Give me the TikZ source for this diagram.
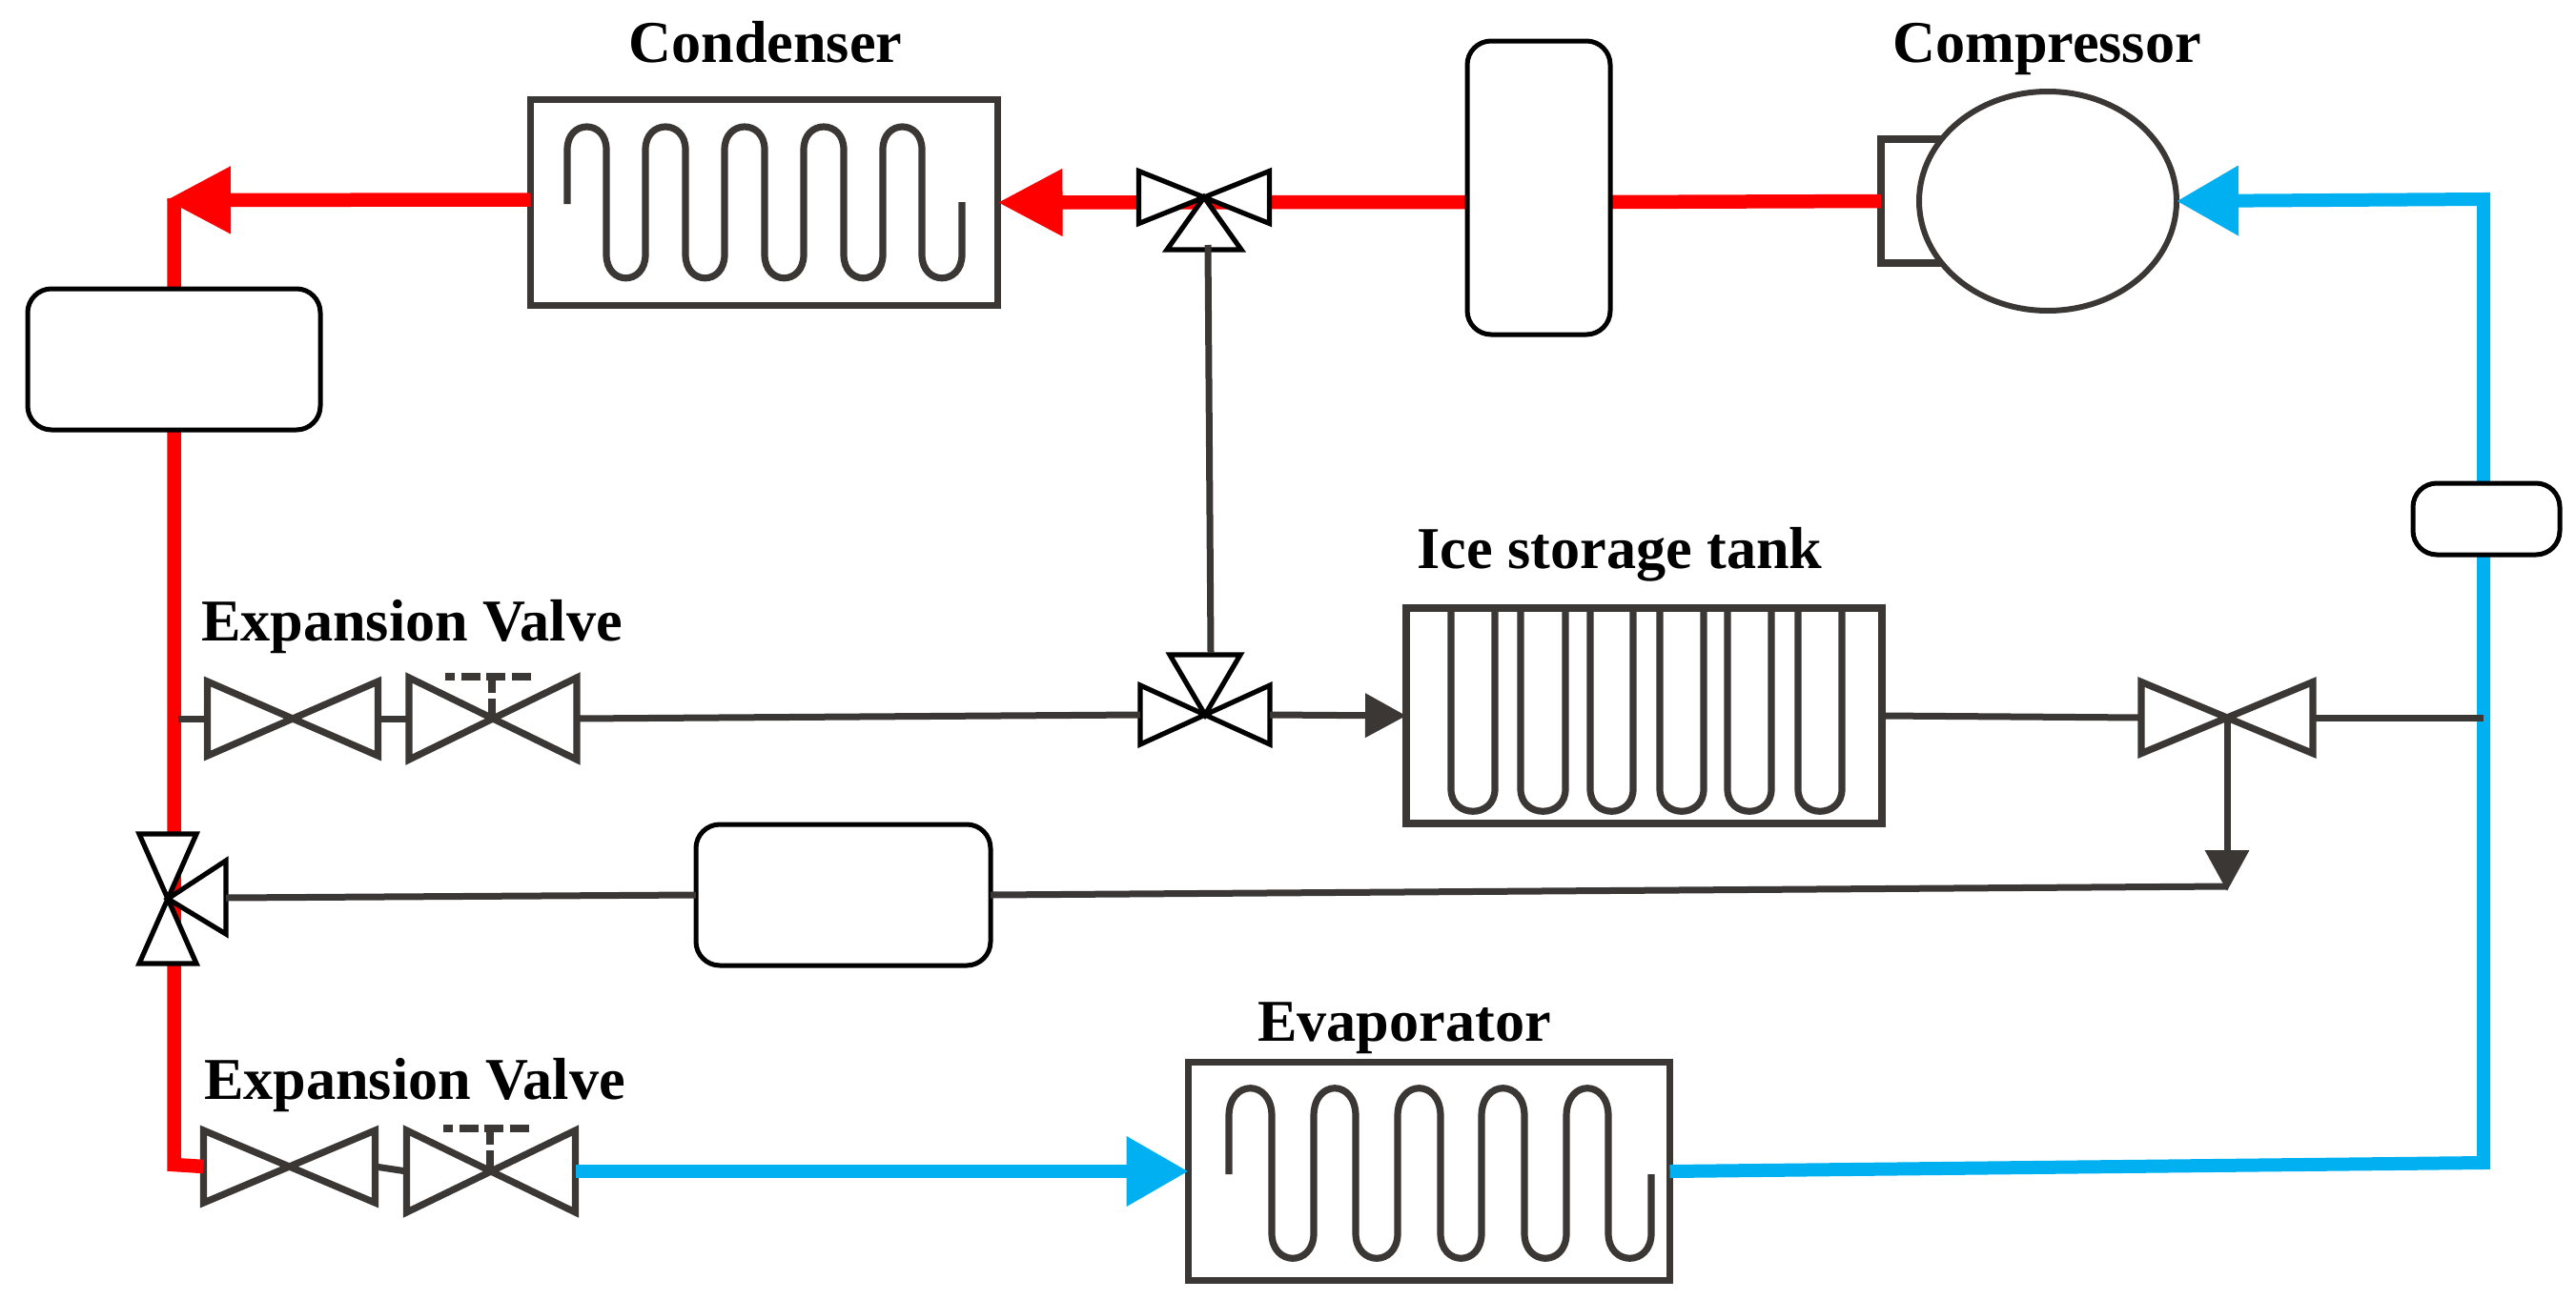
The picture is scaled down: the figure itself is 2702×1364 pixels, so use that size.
\documentclass[tikz,border=0pt]{standalone}
\usepackage{fontspec}
\setmainfont{Liberation Serif}
\usepackage{tikz}
\usetikzlibrary{arrows.meta,shapes.geometric}

\definecolor{darkline}{HTML}{3B3735}
\definecolor{pipered}{HTML}{FF0000}
\definecolor{pipeblue}{HTML}{00B0F0}

\tikzset{
  title/.style={anchor=base, inner sep=0pt, font=\bfseries\fontsize{17.7}{20}\selectfont},
  box/.style 2 args={shape=rectangle, draw=darkline, fill=white, line width=.75mm, inner sep=0pt, outer sep=0pt, minimum width=#1*0.1mm, minimum height=#2*0.1mm},
  tank/.style 2 args={shape=rectangle, draw=black, fill=white, line width=.5mm, rounded corners=2.5mm, inner sep=0pt, outer sep=0pt, minimum width=#1*0.1mm, minimum height=#2*0.1mm},
  valve/.style n args={3}{shape=rectangle, inner sep=0pt, outer sep=0pt, minimum width=#1*0.1mm, minimum height=#2*0.1mm,
    append after command={\pgfextra{\draw[#3] (\tikzlastnode.south west) -- (\tikzlastnode.north east) -- (\tikzlastnode.south east) -- (\tikzlastnode.north west) -- cycle;}}},
  greyvalve/.style={draw=darkline, fill=white, line width=.72mm},
  blackvalve/.style={draw=black, fill=white, line width=.52mm},
  wire/.style={draw=darkline, line width=.7mm},
  coil/.style={draw=darkline, line width=.72mm},
  redpipe/.style={draw=pipered, line width=1.45mm},
  bluepipe/.style={draw=pipeblue, line width=1.4mm},
  redtip/.style={-{Triangle[length=6.8mm,width=6.7mm]}},
  bluetip/.style={-{Triangle[length=6.5mm,width=7mm]}},
  wiretip/.style={-{Triangle[length=4.3mm,width=4.5mm]}},
  actuator/.style={draw=darkline, line width=.75mm}
}

\begin{document}
\begin{tikzpicture}[x=0.1mm,y=-0.1mm]
\useasboundingbox (0,0) rectangle (2702,1364);

\coordinate (tap) at (187,754);
\coordinate (arrowleft) at (174,210);
\coordinate (topleft) at (182.5,208);
\coordinate (botleft) at (182.5,1222);
\coordinate (topright) at (2605,209);
\coordinate (botright) at (2605,1220);
\coordinate (rightend) at (2605,753);
\coordinate (drop) at (2336,935);
\coordinate (dropleft) at (2336,930);
\coordinate (topport) at (1267,257);
\coordinate (midport) at (1270,685);
\coordinate (leftport) at (237,942);
\coordinate (drumtopwest) at (1539,212);
\coordinate (drumtopeast) at (1689,212);

\node[box={64}{130}] (compbox) at (2005,211) {};
\node[shape=ellipse, draw=darkline, fill=white, line width=.6mm, inner sep=0pt, outer sep=0pt, minimum width=27mm, minimum height=23mm] (compressor) at (2148,211) {};
\node[box={490}{216}] (condenser) at (801.5,212.5) {};
\node[box={499}{226}] (ice) at (1724.5,751) {};
\node[box={505}{229}] (evaporator) at (1499,1229) {};

\node[valve={179}{78}{greyvalve}] (valveA) at (307,754) {};
\node[valve={176}{86}{greyvalve}] (valveB) at (517,754) {};
\node[valve={180}{76}{greyvalve}] (valveC) at (303.5,1224) {};
\node[valve={177}{86}{greyvalve}] (valveD) at (515,1229) {};

\draw[redpipe] (compbox.west) -- (drumtopeast);
\draw[redpipe,redtip] (drumtopwest) -- (condenser.east);
\draw[redpipe,redtip] ([yshift=.3mm]condenser.west) -- (arrowleft);
\draw[redpipe] (topleft) -- (botleft) -- (valveC.west);

\draw[bluepipe,bluetip] (valveD.east) -- (evaporator.west);
\draw[bluepipe,bluetip] (evaporator.east) -- (botright) -- (topright) -- (compressor.east);

\node[tank={307}{148}] (drumleft) at (182.5,377) {};
\node[tank={150}{308}] (drumtop) at (1614,197) {};
\node[tank={154}{75}] (drumright) at (2608,544.5) {};
\node[tank={309}{148}] (drummid) at (884.5,939) {};

\node[valve={137}{55}{blackvalve}] (valvetop) at (1263,207) {};
\draw[blackvalve] (valvetop.center) -- (1224,262) -- (1302,262) -- cycle;
\node[valve={136}{62}{blackvalve}] (valvemid) at (1264,750) {};
\draw[blackvalve] (valvemid.center) -- (1227,687) -- (1301,687) -- cycle;
\node[valve={136}{60}{blackvalve},rotate=90] (valveleft) at (176,943) {};
\draw[blackvalve] (valveleft.center) -- (237,903) -- (237,980) -- cycle;
\node[valve={180}{75}{greyvalve}] (valveright) at (2336,753) {};

\draw[wire] (topport) -- (midport);
\draw[wire] (tap) -- (valveA.west);
\draw[wire] (valveA.east) -- (valveB.west);
\draw[wire] (valveC.east) -- (valveD.west);
\draw[wire] (valveB.east) -- (valvemid.west);
\draw[wire,wiretip] (valvemid.east) -- (ice.west);
\draw[wire] (ice.east) -- (valveright.west);
\draw[wire] (valveright.east) -- (rightend);
\draw[wire,wiretip] (valveright.center) -- (drop);
\draw[wire] (drummid.east) -- (dropleft);
\draw[wire] (drummid.west) -- (leftport);

\draw[actuator,dash pattern=on 2mm off .65mm,dash phase=1mm] (467,710) -- (557,710);
\draw[actuator,dash pattern=on 2.1mm off .6mm on 3mm off 0mm] (516,706) -- (516,754);
\draw[actuator,dash pattern=on 2mm off .65mm,dash phase=1mm] (465,1184) -- (555,1184);
\draw[actuator,dash pattern=on 2.1mm off .6mm on 3mm off 0mm] (514,1180) -- (514,1229);

\draw[coil] (595,214) foreach \a/\b/\c in {595/636/677,677/719/760,760/802/843,843/885/926,926/967/1009} {
  -- (\a,157) .. controls (\a,125) and (\b,125) .. (\b,157) -- (\b,267) .. controls (\b,300) and (\c,300) .. (\c,267)
} -- (1009,212);

\draw[coil] (1289,1232) foreach \a/\b/\c in {1289/1334/1378,1378/1422/1466,1466/1511/1554,1554/1599/1643,1643/1687/1732} {
  -- (\a,1171) .. controls (\a,1132) and (\b,1132) .. (\b,1171) -- (\b,1294) .. controls (\b,1329) and (\c,1329) .. (\c,1294)
} -- (1732,1232);

\foreach \a/\b in {1522/1568,1595/1642,1668/1713,1741/1787,1812/1858,1886/1932} {
  \draw[coil] (\a,638) -- (\a,828) .. controls (\a,859) and (\b,859) .. (\b,828) -- (\b,638);
}

\node[title] (condensername) at (803,65) {Condenser};
\node[title] (compressorname) at (2147,65) {Compressor};
\node[title] (icename) at (1699,596) {Ice storage tank};
\node[title] (evaporatorname) at (1473,1092) {Evaporator};
\node[title] (expansionA) at (432,672) {Expansion Valve};
\node[title] (expansionB) at (435,1153) {Expansion Valve};

\end{tikzpicture}
\end{document}
